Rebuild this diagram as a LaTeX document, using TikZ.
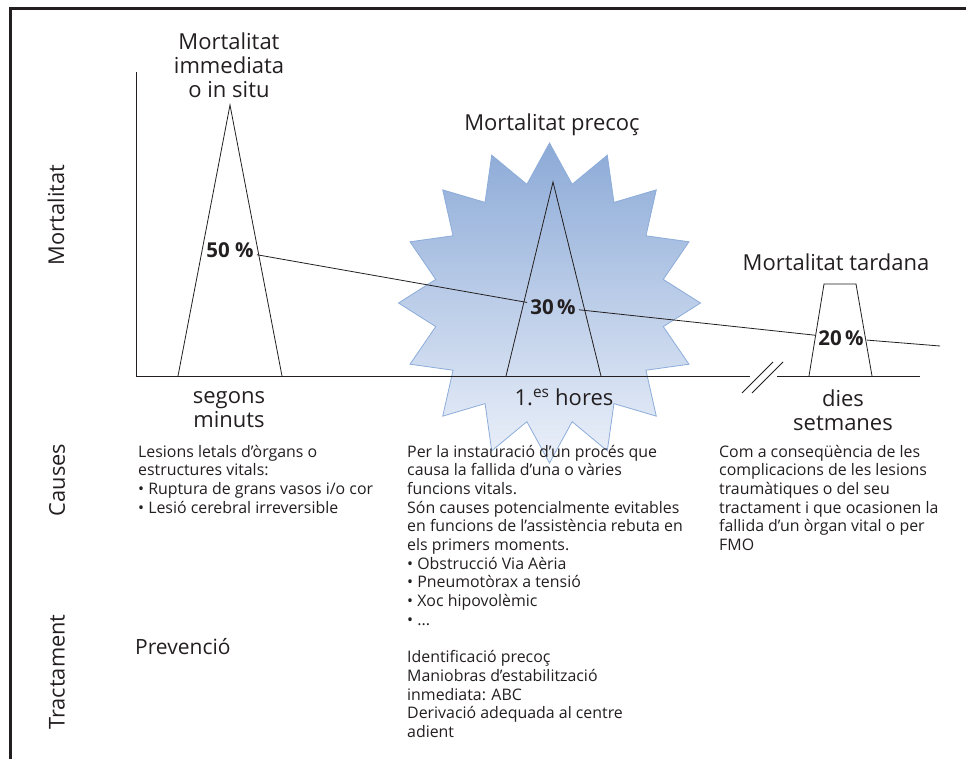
\documentclass[tikz,border=0pt]{standalone}
\usepackage{fontspec}
\setmainfont{Open Sans}
\usetikzlibrary{calc}
\definecolor{ink}{HTML}{231F20}
\definecolor{starTop}{RGB}{140,170,215}
\definecolor{starBot}{RGB}{236,241,250}
\definecolor{starLine}{RGB}{140,172,218}
\begin{document}
\begin{tikzpicture}[x=1pt,y=-1pt,
  every node/.style={text=ink, inner sep=0pt},
  ttl/.style={font=\fontsize{22}{24}\selectfont, align=center},
  body/.style={font=\fontsize{15.9}{18.7}\selectfont, align=left, anchor=base west},
  pct/.style={font=\bfseries\fontsize{20.5}{22}\selectfont, inner sep=3pt},
  side/.style={font=\fontsize{21.8}{24}\selectfont, rotate=90},
  ln/.style={draw=ink, line width=0.8pt},
  frame/.style={draw=ink, line width=3pt}]
\useasboundingbox (0,0) rectangle (966,759);
% frame
\draw[frame] (966,9) -- (10,9) -- (10,760);
% starburst
\shadedraw[top color=starTop, bottom color=starBot, draw=starLine, line width=0.8pt, shift={(549.5,303)}]
  (0:151 and 160)
  \foreach \i in {0,...,15}{ -- ({\i*22.5+11.25}:116 and 121) -- ({(\i+1)*22.5}:151 and 160) } -- cycle;
% axes
\draw[ln] (136,72) -- (136,376) -- (750,376);
\draw[ln] (777,376) -- (920,376);
\draw[ln] (742,393) -- (773,362);
\draw[ln] (752,393) -- (783,362);
% peaks
\draw[ln] (178,376) -- (230,105) -- (282,376);
\draw[ln] (506,376) -- (553,182) -- (601,376);
\draw[ln] (809,376) -- (824,284) -- (856,284) -- (872,376);
% percentages
\node[pct] (p50) at (230,250) {50 \%};
\node[pct] (p30) at (553,307) {30\,\%};
\node[pct] (p20) at (841,338) {20\,\%};
\coordinate (tail) at (940,346);
\draw[ln] (p50) -- (p30);
\draw[ln] (p30) -- (p20);
\draw[ln] (p20) -- (tail);
% titles
\node[ttl] (t1) at (229,65.5) {Mortalitat\\immediata\\o in situ};
\node[ttl] (t2) at (552,125) {Mortalitat precoç};
\node[ttl] (t3) at (836,262) {Mortalitat tardana};
% time labels
\node[ttl] (x1) at (229,410) {segons\\minuts};
\node[ttl] (x2) at (564,397) {1.\textsuperscript{es} hores};
\node[ttl] (x3) at (843,410) {dies\\setmanes};
% side labels
\node[side] (s1) at (56,215) {Mortalitat};
\node[side] (s2) at (57,480) {Causes};
\node[side] (s3) at (57,672) {Tractament};
% causes (anchored at baseline of last line)
\node[body] (c1) at (138,513.1) {Lesions letals d’òrgans o\\estructures vitals:\\• Ruptura de grans vasos i/o cor\\• Lesió cerebral irreversible};
\node[body] (c2) at (407,737.5) {Per la instauració d’un procés que\\causa la fallida d’una o vàries\\funcions vitals.\\Són causes potencialmente evitables\\en funcions de l’assistència rebuta en\\els primers moments.\\• Obstrucció Via Aèria\\• Pneumotòrax a tensió\\• Xoc hipovolèmic\\• ...\\[18.7pt]Identificació precoç\\Maniobras d’estabilització\\inmediata: ABC\\Derivació adequada al centre\\adient};
\node[body] (c3) at (719,550.5) {Com a conseqüència de les\\complicacions de les lesions\\traumàtiques o del seu\\tractament i que ocasionen la\\fallida d’un òrgan vital o per\\FMO};
\node[font=\fontsize{21}{24}\selectfont, anchor=west] (tr) at (135,647) {Prevenció};
\end{tikzpicture}
\end{document}
